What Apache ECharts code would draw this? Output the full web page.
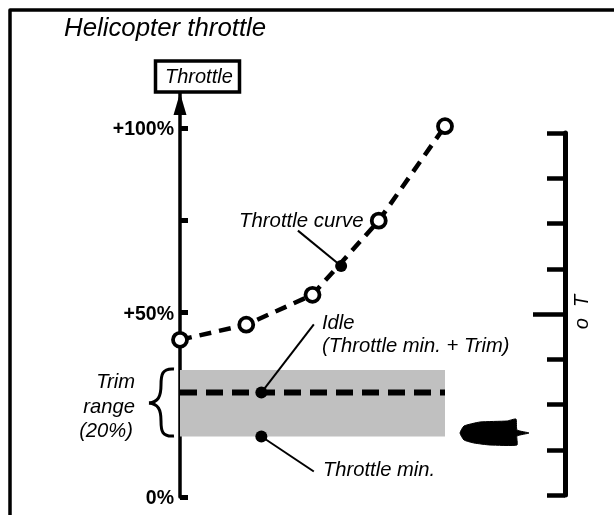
<!DOCTYPE html>
<html><head><meta charset="utf-8">
<style>html,body{margin:0;padding:0;background:#fff}#c{width:614px;height:515px}</style>
<script src="https://cdn.jsdelivr.net/npm/echarts@6/dist/echarts.min.js"></script>
</head><body><div id="c"></div>
<script>
const curveX = [0, 25, 50, 75, 100];
const curveY = [42.6, 46.7, 54.8, 74.9, 100.5];
const curveMark = [60.8, 62.6];
const idleLevel = 28.3;
const trimTop = 34.4;
const trimBottom = 16.4;
const markX = 30.7;
const leftTicks = [0, 25, 50, 75, 100];
const leftLabels = [0, 50, 100];
const rightTicks = [-100, -75, -50, -25, 25, 50, 75, 100];
const rightMajor = [0];
const F = '"Liberation Sans", Arial, sans-serif';
const txt = (x, y, text, size, extra) => ({type:'text', x, y, z:20,
  style:Object.assign({text, font:`italic ${size}px ${F}`, fill:'#000', textVerticalAlign:'middle'}, extra||{})});
const curve = (x1,y1,cpx1,cpy1,cpx2,cpy2,x2,y2) => ({type:'bezierCurve', z:20,
  shape:{x1,y1,cpx1,cpy1,cpx2,cpy2,x2,y2}, style:{fill:null, stroke:'#000', lineWidth:3}});
const chart = echarts.init(document.getElementById('c'), null, {renderer:'canvas'});
const rightAxis = (ticks, len, g) => ({type:'value', gridIndex:g, min:-100, max:100, position:'right',
  splitLine:{show:false}, axisLabel:{show:false},
  axisLine:{show:g===1, onZero:false, lineStyle:{color:'#000', width:5}},
  axisTick:{show:true, inside:true, length:len, customValues:ticks, lineStyle:{color:'#000', width:4.5}}});
const rightGrid = {left:300, top:133, width:265, height:362};
chart.setOption({
  animation:false,
  grid:[{left:180, top:93, width:265, height:404}, rightGrid, rightGrid],
  xAxis:[0,1,2].map(g => ({type:'value', gridIndex:g, min:0, max:100, show:false})),
  yAxis:[
    {type:'value', min:0, max:109.5, position:'left', splitLine:{show:false},
     axisLine:{show:true, onZero:false, symbol:['none','triangle'], symbolSize:[13,22], symbolOffset:[0,-11], lineStyle:{color:'#000', width:3.5}},
     axisTick:{show:true, inside:true, length:8, customValues:leftTicks, lineStyle:{color:'#000', width:5}},
     axisLabel:{show:true, customValues:leftLabels, margin:6, verticalAlign:'top', lineHeight:20, padding:[-8,0,0,0], fontFamily:F, fontWeight:'bold', fontSize:19.5, color:'#000',
       formatter:v => v === 0 ? '0%' : '+' + v + '%'}},
    rightAxis(rightTicks, 18, 1),
    rightAxis(rightMajor, 32, 2)
  ],
  series:[
    {type:'line', data:[[0, trimTop],[100, trimTop]], symbol:'none', lineStyle:{width:0}, z:1, silent:true,
     markArea:{silent:true, itemStyle:{color:'#c0c0c0'}, data:[[{xAxis:0, yAxis:trimTop},{xAxis:100, yAxis:trimBottom}]]}},
    {type:'line', data:[[0, idleLevel],[100, idleLevel]], symbol:'none', z:4, clip:false,
     lineStyle:{color:'#000', width:6, type:[17,9]}},
    {type:'line', data:[[markX, idleLevel],[50.5, 46.8]], symbol:'none', z:3, clip:false, lineStyle:{color:'#000', width:2}},
    {type:'line', data:[[markX, trimBottom],[50.5, 6.9]], symbol:'none', z:3, clip:false, lineStyle:{color:'#000', width:2}},
    {type:'line', data:[curveMark,[44.5, 72.2]], symbol:'none', z:3, clip:false, lineStyle:{color:'#000', width:2}},
    {type:'line', data:curveX.map((x,i)=>[x,curveY[i]]), z:6, clip:false, symbol:'circle', symbolSize:14,
     lineStyle:{color:'#000', width:4.5, type:[12,8]},
     itemStyle:{color:'#fff', borderColor:'#000', borderWidth:3.8, opacity:1}},
    {type:'scatter', data:[[markX, idleLevel],[markX, trimBottom],curveMark], z:7, clip:false, symbol:'circle', symbolSize:12,
     itemStyle:{color:'#000', opacity:1}}
  ],
  graphic:[
    {type:'polyline', z:20, shape:{points:[[10,515],[10,10],[614,10]]}, style:{stroke:'#000', lineWidth:3.5, fill:null, lineJoin:'round'}},
    txt(64, 29, 'Helicopter throttle', 25.8),
    {type:'rect', z:20, shape:{x:155.5, y:61, width:84, height:31}, style:{fill:'#fff', stroke:'#000', lineWidth:3.5}},
    txt(165, 77, 'Throttle', 20),
    txt(239, 221, 'Throttle curve', 20.4),
    txt(322, 323, 'Idle', 20.2),
    txt(322, 346, '(Throttle min. + Trim)', 20.2),
    txt(323, 470, 'Throttle min.', 20.2),
    txt(135, 382, 'Trim', 20.2, {textAlign:'right'}),
    txt(135, 407, 'range', 20.2, {textAlign:'right'}),
    txt(133, 431, '(20%)', 20.2, {textAlign:'right'}),
    curve(174,369, 162,368, 161,375, 161,385),
    curve(161,385, 161,397, 158,402, 149,403),
    curve(149,403, 158,404, 161,409, 161,421),
    curve(161,421, 161,431, 162,437, 174,436),
    {type:'polygon', z:20, shape:{smooth:0.15, points:[[460,433],[464,426],[480,422],[507,421],[516,419],[517,430],[529,433],[517,436],[517,445],[490,445],[474,443],[464,440]]},
     style:{fill:'#000', stroke:'#000', lineWidth:1}},
    {type:'text', z:20, x:582, y:312, rotation:Math.PI/2,
     style:{text:'o  T', font:`italic 20px ${F}`, fill:'#000', textAlign:'center', textVerticalAlign:'middle'}}
  ]
});
</script></body></html>
